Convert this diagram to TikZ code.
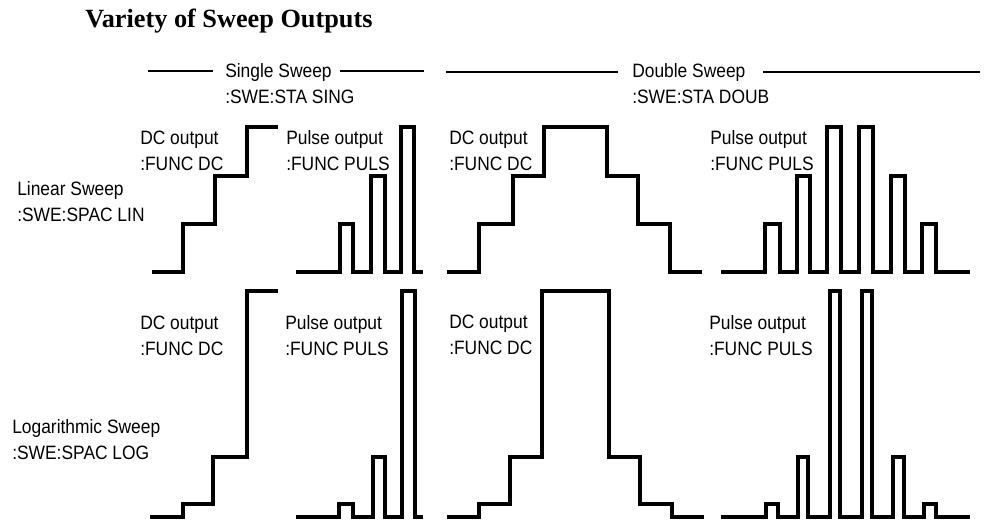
\documentclass[tikz,border=0pt]{standalone}
\usepackage{fontspec}
\setmainfont{Liberation Sans}[FakeStretch=0.9]
\newfontfamily\titlefont{Liberation Serif}
\tikzset{
  wave/.style={draw=black,line width=2.3pt},
  hdrule/.style={draw=black,line width=2pt},
  lbl/.style={anchor=base west,inner sep=0pt,align=left,font=\fontsize{14.5}{18.8}\selectfont},
  ttl/.style={anchor=base west,inner sep=0pt,font=\titlefont\bfseries\fontsize{19.7}{24}\selectfont}
}

\begin{document}
\begin{tikzpicture}[x=0.75pt,y=-0.75pt]
  \useasboundingbox (0,0) rectangle (984,519);
  \node[ttl] (title) at (85,27) {Variety of Sweep Outputs};

  % sweep modes (placed at the baseline of the second line)
  \node[lbl] (sglhd) at (225,103) {Single Sweep\\:SWE:STA SING};
  \node[lbl] (dblhd) at (632,103) {Double Sweep\\:SWE:STA DOUB};
  \draw[hdrule] (148,71) -- (213,71);
  \draw[hdrule] (340,71) -- (424,71);
  \draw[hdrule] (446,72) -- (618,72);
  \draw[hdrule] (763,72) -- (980,72);

  % spacing
  \node[lbl] (linlbl) at (17,221) {Linear Sweep\\:SWE:SPAC LIN};
  \node[lbl] (loglbl) at (12,459) {Logarithmic Sweep\\:SWE:SPAC LOG};

  % output functions
  \foreach \x/\y [count=\i] in {140/170, 449/170, 140/355, 449/354}
    \node[lbl] (dc\i) at (\x,\y) {DC output\\:FUNC DC};
  \foreach \x/\y [count=\i] in {286/170, 710/170, 285/355, 709/355}
    \node[lbl] (puls\i) at (\x,\y) {Pulse output\\:FUNC PULS};

  % linear sweep
  \draw[wave] (152,272) -| (183,224) -| (215,176) -| (247,127) -- (278,127);
  \draw[wave] (296,272) -| (340,224) -| (353,272) -| (371,176) -| (385,272)
    -| (401,127) -| (414,272) -- (423,272);
  \draw[wave] (447,272) -| (479,224) -| (513,176) -| (544,127) -| (607,176)
    -| (638,224) -| (670,272) -- (702,272);
  \draw[wave] (721,272) -| (765,224) -| (780,272) -| (797,176) -| (810,272)
    -| (827,127) -| (841,272) -| (859,127) -| (873,272) -| (891,176)
    -| (905,272) -| (922,224) -| (936,272) -- (970,272);

  % logarithmic sweep
  \draw[wave] (150,517) -| (183,504) -| (213,457) -| (247,291) -- (278,291);
  \draw[wave] (296,517) -| (339,504) -| (353,517) -| (373,457) -| (385,517)
    -| (402,291) -| (415,517) -- (423,517);
  \draw[wave] (447,517) -| (479,504) -| (510,457) -| (542,291) -| (609,457)
    -| (640,504) -| (672,517) -- (704,517);
  \draw[wave] (721,517) -| (766,504) -| (778,517) -| (798,457) -| (808,517)
    -| (830,291) -| (840,517) -| (862,291) -| (872,517) -| (893,457)
    -| (904,517) -| (924,504) -| (936,517) -- (970,517);
\end{tikzpicture}
\end{document}
